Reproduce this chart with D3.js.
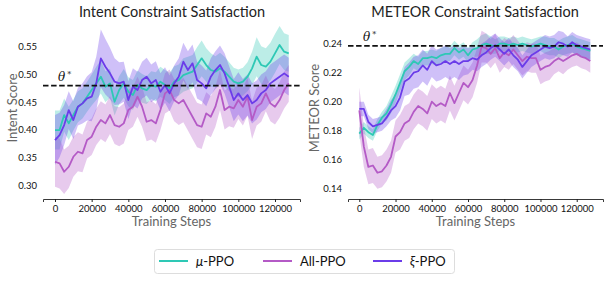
<!DOCTYPE html>
<html>
<head>
<meta charset="utf-8">
<script src="https://cdn.jsdelivr.net/npm/d3@7"></script>
<style>
  body { margin: 0; background: #fff; }
  svg { display: block; font-family: Lato, "Open Sans", sans-serif; }
</style>
</head>
<body>
<div id="chart"></div>
<script>
// steps: 0 .. 127500, every 2500
const steps = d3.range(0, 127501, 2500);
const xTicks = [0, 20000, 40000, 60000, 80000, 100000, 120000];

const seriesNames = ["μ-PPO", "All-PPO", "ξ-PPO"];

// Intent panel
const intentTicks = [0.30, 0.35, 0.40, 0.45, 0.50, 0.55];
const intentTheta = 0.48;
const intentMu = [0.400, 0.400, 0.427, 0.412, 0.427, 0.442, 0.448, 0.460, 0.472, 0.484, 0.496, 0.478, 0.484, 0.451, 0.472, 0.484, 0.469, 0.463, 0.481, 0.475, 0.472, 0.481, 0.478, 0.487, 0.481, 0.475, 0.487, 0.490, 0.499, 0.502, 0.505, 0.517, 0.529, 0.517, 0.508, 0.505, 0.511, 0.505, 0.496, 0.487, 0.484, 0.487, 0.496, 0.511, 0.532, 0.517, 0.514, 0.523, 0.538, 0.553, 0.541, 0.538];
const intentMuSd = [0.035, 0.035, 0.030, 0.030, 0.028, 0.028, 0.027, 0.027, 0.028, 0.030, 0.030, 0.028, 0.026, 0.025, 0.025, 0.026, 0.026, 0.027, 0.026, 0.026, 0.025, 0.025, 0.026, 0.027, 0.027, 0.028, 0.028, 0.028, 0.030, 0.030, 0.030, 0.032, 0.032, 0.030, 0.030, 0.028, 0.028, 0.027, 0.026, 0.025, 0.025, 0.025, 0.026, 0.030, 0.035, 0.034, 0.033, 0.034, 0.035, 0.034, 0.033, 0.033];
const intentAll = [0.343, 0.340, 0.325, 0.334, 0.352, 0.361, 0.358, 0.382, 0.388, 0.406, 0.418, 0.412, 0.427, 0.409, 0.406, 0.412, 0.436, 0.442, 0.460, 0.442, 0.415, 0.418, 0.412, 0.436, 0.466, 0.472, 0.454, 0.448, 0.454, 0.439, 0.424, 0.409, 0.406, 0.430, 0.424, 0.442, 0.472, 0.436, 0.442, 0.439, 0.454, 0.442, 0.460, 0.418, 0.442, 0.448, 0.466, 0.448, 0.442, 0.454, 0.472, 0.484];
const intentAllSd = [0.045, 0.045, 0.040, 0.038, 0.036, 0.035, 0.034, 0.033, 0.033, 0.033, 0.034, 0.034, 0.034, 0.034, 0.035, 0.036, 0.036, 0.036, 0.036, 0.036, 0.035, 0.035, 0.035, 0.036, 0.036, 0.037, 0.038, 0.039, 0.040, 0.040, 0.040, 0.040, 0.040, 0.038, 0.037, 0.036, 0.036, 0.035, 0.035, 0.035, 0.034, 0.034, 0.034, 0.034, 0.034, 0.033, 0.032, 0.032, 0.032, 0.032, 0.033, 0.033];
const intentXi = [0.382, 0.391, 0.409, 0.436, 0.418, 0.442, 0.448, 0.457, 0.460, 0.484, 0.529, 0.514, 0.502, 0.487, 0.484, 0.487, 0.454, 0.478, 0.472, 0.490, 0.496, 0.484, 0.490, 0.469, 0.481, 0.466, 0.484, 0.496, 0.523, 0.508, 0.520, 0.490, 0.484, 0.475, 0.496, 0.508, 0.517, 0.502, 0.478, 0.454, 0.466, 0.454, 0.463, 0.448, 0.454, 0.466, 0.472, 0.484, 0.490, 0.496, 0.502, 0.496];
const intentXiSd = [0.045, 0.040, 0.036, 0.034, 0.034, 0.034, 0.036, 0.040, 0.044, 0.048, 0.052, 0.050, 0.046, 0.042, 0.038, 0.036, 0.034, 0.033, 0.033, 0.033, 0.034, 0.034, 0.034, 0.033, 0.032, 0.032, 0.032, 0.033, 0.034, 0.034, 0.034, 0.033, 0.032, 0.032, 0.033, 0.034, 0.035, 0.036, 0.037, 0.038, 0.038, 0.038, 0.037, 0.036, 0.035, 0.034, 0.034, 0.034, 0.034, 0.034, 0.034, 0.034];

// METEOR panel
const meteorTicks = [0.14, 0.16, 0.18, 0.20, 0.22, 0.24];
const meteorTheta = 0.2385;
const meteorMu = [0.178, 0.182, 0.179, 0.177, 0.184, 0.189, 0.192, 0.198, 0.205, 0.213, 0.221, 0.224, 0.228, 0.226, 0.230, 0.230, 0.231, 0.230, 0.232, 0.233, 0.233, 0.237, 0.234, 0.236, 0.232, 0.236, 0.237, 0.239, 0.240, 0.239, 0.238, 0.240, 0.240, 0.239, 0.240, 0.239, 0.240, 0.239, 0.238, 0.239, 0.240, 0.239, 0.238, 0.238, 0.236, 0.238, 0.239, 0.240, 0.238, 0.237, 0.236, 0.235];
const meteorMuSd = [0.004, 0.004, 0.004, 0.004, 0.004, 0.004, 0.005, 0.006, 0.006, 0.006, 0.006, 0.006, 0.005, 0.005, 0.005, 0.005, 0.005, 0.005, 0.005, 0.005, 0.005, 0.005, 0.005, 0.005, 0.005, 0.005, 0.006, 0.007, 0.007, 0.006, 0.005, 0.005, 0.005, 0.005, 0.005, 0.005, 0.005, 0.005, 0.005, 0.005, 0.005, 0.006, 0.006, 0.006, 0.006, 0.006, 0.006, 0.006, 0.006, 0.006, 0.006, 0.006];
const meteorAll = [0.194, 0.169, 0.155, 0.156, 0.151, 0.152, 0.156, 0.162, 0.176, 0.179, 0.185, 0.187, 0.193, 0.197, 0.195, 0.192, 0.200, 0.197, 0.199, 0.197, 0.206, 0.199, 0.206, 0.213, 0.210, 0.215, 0.225, 0.238, 0.237, 0.233, 0.237, 0.230, 0.234, 0.232, 0.236, 0.232, 0.228, 0.231, 0.230, 0.230, 0.222, 0.224, 0.225, 0.228, 0.230, 0.228, 0.230, 0.232, 0.233, 0.231, 0.230, 0.228];
const meteorAllSd = [0.016, 0.014, 0.012, 0.012, 0.011, 0.011, 0.011, 0.011, 0.011, 0.012, 0.012, 0.012, 0.012, 0.012, 0.012, 0.012, 0.012, 0.012, 0.012, 0.012, 0.012, 0.012, 0.012, 0.012, 0.012, 0.012, 0.012, 0.011, 0.010, 0.010, 0.010, 0.010, 0.010, 0.010, 0.010, 0.010, 0.010, 0.010, 0.010, 0.010, 0.010, 0.010, 0.010, 0.009, 0.009, 0.009, 0.008, 0.008, 0.008, 0.008, 0.008, 0.008];
const meteorXi = [0.195, 0.195, 0.186, 0.183, 0.184, 0.185, 0.189, 0.194, 0.197, 0.203, 0.214, 0.216, 0.220, 0.221, 0.225, 0.222, 0.228, 0.225, 0.226, 0.228, 0.226, 0.228, 0.226, 0.228, 0.228, 0.230, 0.229, 0.232, 0.234, 0.237, 0.239, 0.236, 0.233, 0.236, 0.232, 0.229, 0.224, 0.228, 0.232, 0.234, 0.236, 0.238, 0.237, 0.238, 0.241, 0.240, 0.238, 0.241, 0.239, 0.238, 0.237, 0.236];
const meteorXiSd = [0.005, 0.005, 0.005, 0.005, 0.005, 0.005, 0.006, 0.007, 0.008, 0.009, 0.010, 0.011, 0.011, 0.011, 0.011, 0.011, 0.011, 0.011, 0.011, 0.011, 0.011, 0.011, 0.011, 0.010, 0.009, 0.008, 0.008, 0.008, 0.008, 0.008, 0.008, 0.008, 0.008, 0.008, 0.008, 0.008, 0.008, 0.008, 0.008, 0.008, 0.008, 0.008, 0.008, 0.008, 0.008, 0.008, 0.007, 0.007, 0.007, 0.007, 0.007, 0.007];

const colours = ["#2ec8b5", "#b45ac6", "#6b3ce9"];

const width = 609;
const height = 281;

const svg = d3.select("#chart")
  .append("svg")
  .attr("width", width)
  .attr("height", height);

const panels = [
  {
    title: "Intent Constraint Satisfaction",
    ylabel: "Intent Score",
    series: [[intentMu, intentMuSd], [intentAll, intentAllSd], [intentXi, intentXiSd]],
    yTicks: intentTicks,
    yFormat: d3.format(".2f"),
    theta: intentTheta,
    x: d3.scaleLinear().domain([-6545, 133640]).range([43, 300]),
    y: d3.scaleLinear().domain([0.276, 0.589]).range([199, 25]),
    yLabelX: 12,
    tickRight: 37,
    titleX: 172,
  },
  {
    title: "METEOR Constraint Satisfaction",
    ylabel: "METEOR Score",
    series: [[meteorMu, meteorMuSd], [meteorAll, meteorAllSd], [meteorXi, meteorXiSd]],
    yTicks: meteorTicks,
    yFormat: d3.format(".2f"),
    theta: meteorTheta,
    x: d3.scaleLinear().domain([-6240, 134500]).range([348, 603]),
    y: d3.scaleLinear().domain([0.1329, 0.2529]).range([199, 25]),
    yLabelX: 314,
    tickRight: 342,
    titleX: 475,
  },
];

panels.forEach((p) => {
  const g = svg.append("g");
  const [x0, x1] = p.x.range();

  // Title
  g.append("text")
    .attr("x", p.titleX)
    .attr("y", 17)
    .attr("text-anchor", "middle")
    .attr("font-size", "14.5px")
    .attr("fill", "#222")
    .text(p.title);

  // bands + lines
  p.series.forEach(([vals, sd], i) => {
    const area = d3.area()
      .x((d, j) => p.x(steps[j]))
      .y0((d, j) => p.y(vals[j] - sd[j]))
      .y1((d, j) => p.y(vals[j] + sd[j]));
    g.append("path")
      .datum(vals)
      .attr("fill", colours[i])
      .attr("fill-opacity", 0.32)
      .attr("d", area);
  });
  p.series.forEach(([vals], i) => {
    const line = d3.line()
      .x((d, j) => p.x(steps[j]))
      .y((d) => p.y(d));
    g.append("path")
      .datum(vals)
      .attr("fill", "none")
      .attr("stroke", colours[i])
      .attr("stroke-width", 1.8)
      .attr("stroke-linejoin", "round")
      .attr("d", line);
  });

  // theta* threshold
  g.append("line")
    .attr("x1", x0)
    .attr("x2", x1)
    .attr("y1", p.y(p.theta))
    .attr("y2", p.y(p.theta))
    .attr("stroke", "#111")
    .attr("stroke-width", 1.8)
    .attr("stroke-dasharray", "5.5,2.6");

  const th = g.append("text")
    .attr("x", x0 + 15)
    .attr("y", p.y(p.theta) - 5)
    .attr("font-family", "'DejaVu Serif', serif")
    .attr("font-size", "12px")
    .attr("fill", "#111");
  th.append("tspan").attr("font-style", "italic").text("θ");
  th.append("tspan").attr("dy", -4).attr("dx", 2).attr("font-size", "8px").text("*");

  // x axis
  const xAxis = g.append("g")
    .attr("transform", "translate(0,199)")
    .call(d3.axisBottom(p.x).tickValues(xTicks).tickSizeOuter(0).tickSize(3).tickPadding(3).tickFormat(d3.format("d")));
  xAxis.select(".domain").attr("stroke", "#222").attr("stroke-width", 0.9);
  xAxis.selectAll(".tick line").attr("stroke", "#222");
  xAxis.selectAll(".tick text")
    .attr("font-family", "Lato, sans-serif")
    .attr("font-size", "9.5px")
    .attr("fill", "#111");

  // y tick labels (no spine)
  g.selectAll("text.ytick")
    .data(p.yTicks)
    .enter()
    .append("text")
    .attr("class", "ytick")
    .attr("x", p.tickRight)
    .attr("y", (d) => p.y(d))
    .attr("dy", "0.35em")
    .attr("text-anchor", "end")
    .attr("font-size", "9.5px")
    .attr("fill", "#111")
    .text(p.yFormat);

  // axis labels
  g.append("text")
    .attr("x", (x0 + x1) / 2)
    .attr("y", 226)
    .attr("text-anchor", "middle")
    .attr("font-size", "13px")
    .attr("fill", "#666")
    .text("Training Steps");

  g.append("text")
    .attr("transform", `translate(${p.yLabelX},108) rotate(-90)`)
    .attr("text-anchor", "middle")
    .attr("dy", "0.35em")
    .attr("font-size", "13px")
    .attr("fill", "#666")
    .text(p.ylabel);
});

// Legend
const legend = svg.append("g");
legend.append("rect")
  .attr("x", 154.5)
  .attr("y", 249.5)
  .attr("width", 300)
  .attr("height", 24)
  .attr("rx", 3)
  .attr("fill", "#fff")
  .attr("stroke", "#ddd");

const legendX = [159, 263, 373];
seriesNames.forEach((name, i) => {
  legend.append("line")
    .attr("x1", legendX[i])
    .attr("x2", legendX[i] + 29)
    .attr("y1", 261)
    .attr("y2", 261)
    .attr("stroke", colours[i])
    .attr("stroke-width", 2);
  const t = legend.append("text")
    .attr("x", legendX[i] + 37)
    .attr("y", 261)
    .attr("dy", "0.35em")
    .attr("font-size", "13px")
    .attr("fill", "#111");
  const sym = name.split("-")[0];
  if (sym === "All") {
    t.text(name);
  } else {
    t.append("tspan").attr("font-style", "italic").text(sym);
    t.append("tspan").text("-PPO");
  }
});
</script>
</body>
</html>
